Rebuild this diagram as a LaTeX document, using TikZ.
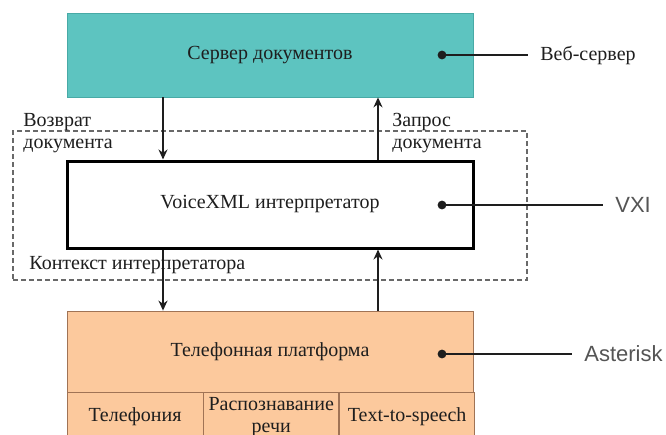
\documentclass[tikz,border=0pt]{standalone}
\usepackage{fontspec}
\setmainfont{Liberation Serif}
\newfontfamily\tagfont{Liberation Sans}
\usetikzlibrary{arrows.meta, positioning}

\definecolor{serverteal}{RGB}{93,196,192}
\definecolor{serveredge}{RGB}{72,170,166}
\definecolor{platorange}{RGB}{252,201,157}
\definecolor{platedge}{RGB}{160,115,85}
\definecolor{inkgray}{RGB}{30,30,30}
\definecolor{taggray}{RGB}{85,85,85}
\definecolor{framegray}{RGB}{105,105,105}

\begin{document}
\begin{tikzpicture}[
    x=0.5pt, y=-0.5pt,
    every node/.style={font=\fontsize{10}{11}\selectfont, text=inkgray},
    box/.style={rectangle, minimum width=203pt, align=center, inner sep=0pt},
    cell/.style={rectangle, draw=platedge, fill=platorange, minimum height=24pt, align=center, inner sep=0pt, anchor=north west},
    arrow/.style={-{Stealth[length=5pt, width=4.5pt]}, line width=0.8pt, draw=inkgray},
    pin/.style={line width=1pt, draw=inkgray},
    note/.style={align=left, inner sep=0pt, anchor=west},
    tag/.style={inner xsep=6pt, inner ysep=0pt, anchor=west}
]
\clip (0,0) rectangle (666,435);
\fill[white] (0,0) rectangle (666,435);

% dashed frame round the interpreter
\node[draw=framegray, dashed, dash pattern=on 2.5pt off 1.5pt, line width=1.2pt,
      minimum width=257pt, minimum height=74.5pt, inner sep=0pt] (context) at (270,205.5) {};
\node[note] (ctxtext) at (29,265) {Контекст интерпретатора};

% the three layers
\node[box, draw=serveredge, fill=serverteal, minimum height=42pt] (server) at (270,55) {Сервер документов};
\node[box, draw=black, line width=1.5pt, fill=white, minimum height=43.5pt] (interp) at (270,204.5) {VoiceXML интерпретатор};
\node[box, draw=platedge, fill=platorange, minimum height=40.5pt] (platform) at (270,351.5) {Телефонная платформа};

% platform modules
\node[cell, minimum width=68pt] (telephony) at (platform.south west) {Телефония};
\node[cell, minimum width=67.5pt] (asr) at (telephony.north east) {Распознавание\\речи};
\node[cell, minimum width=67.5pt] (tts) at (asr.north east) {Text-to-speech};

% arrow columns
\coordinate (retx) at (163,0);
\coordinate (reqx) at (378,0);

\node[note] (ret) at (23,133) {Возврат\\документа};
\node[note] (req) at (392,133) {Запрос\\документа};

\draw[arrow] (server.south -| retx) -- (interp.north -| retx);
\draw[arrow] (interp.north -| reqx) -- (server.south -| reqx);
\draw[arrow] (interp.south -| retx) -- (platform.north -| retx);
\draw[arrow] (platform.north -| reqx) -- (interp.south -| reqx);

% implementations
\coordinate (webdot) at (442,55);
\coordinate (vxidot) at (442,205);
\coordinate (astdot) at (442,354);
\node[tag] (web) at (528,55) {Веб-сервер};
\node[tag, font=\tagfont\fontsize{11}{12}\selectfont, text=taggray] (vxi) at (603,205) {VXI};
\node[tag, font=\tagfont\fontsize{11}{12}\selectfont, text=taggray] (ast) at (572,354) {Asterisk};

\draw[pin] (webdot) -- (web.west);
\draw[pin] (vxidot) -- (vxi.west);
\draw[pin] (astdot) -- (ast.west);
\foreach \d in {webdot, vxidot, astdot}
    \fill[inkgray] (\d) circle (2.2pt);

\end{tikzpicture}
\end{document}
